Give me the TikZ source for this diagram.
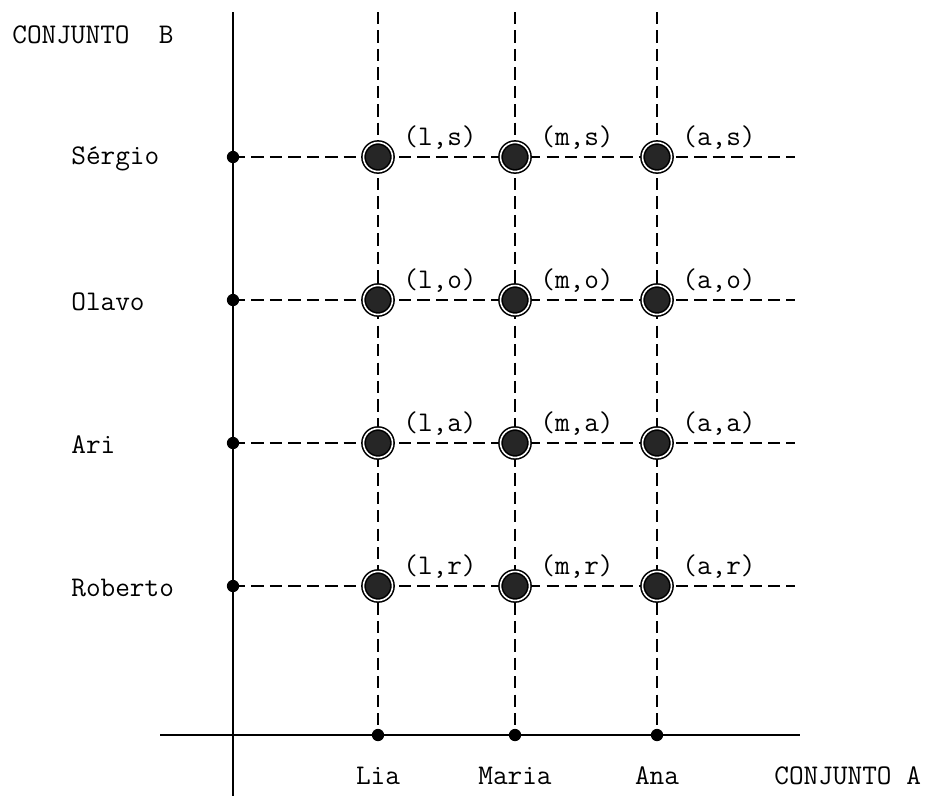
\documentclass[tikz,border=0pt]{standalone}
\usepackage{fontspec}
\tikzset{
	ponto/.style = {circle, fill, inner sep = 0pt, minimum size = 7pt},
	par/.style = {circle, draw, fill = black!85, double = white, double distance = 0.9pt, line width = 0.9pt, inner sep = 0pt, minimum size = 16.5pt},
	grade/.style = {dashed, dash pattern = on 7pt off 3.5pt, line width = 0.9pt},
	rotulo/.style = {font = \ttfamily\fontsize{16.2}{19}\selectfont, inner sep = 0pt}
}
\begin{document}
\begin{tikzpicture}[x = 0.02cm, y = -0.02cm]
	\useasboundingbox (0,0) rectangle (925,796);
	% eixos
	\coordinate (ytopo) at (233,12);
	\coordinate (ybase) at (233,796);
	\coordinate (xesq) at (160,735);
	\coordinate (xdir) at (800,735);
	\draw [line width = 1.1pt] (ytopo) -- (ybase);
	\draw [line width = 1.1pt] (xesq) -- (xdir);
	\node [rotulo, anchor = west] (cjB) at (12,35) {CONJUNTO\ \ B};
	\node [rotulo, anchor = west] (cjA) at (774,776) {CONJUNTO A};
	% conjunto A
	\foreach \nome/\x/\c in {Lia/378/l, Maria/515/m, Ana/657/a} {
		\coordinate (T\c) at (\x,12);
		\draw [grade] (T\c) -- (\x,735) coordinate (A\c);
		\node [rotulo] (nome\c) at (\x,776) {\nome};
	}
	% conjunto B
	\foreach \nome/\y/\r in {Sérgio/157/s, Olavo/300/o, Ari/443/a, Roberto/586/r} {
		\coordinate (B\r) at (233,\y);
		\draw [grade] (B\r) -- (795,\y) coordinate (E\r);
		\node [rotulo, anchor = west] (nome\r) at (71,\y+2) {\nome};
		\node [ponto] at (B\r) {};
	}
	\foreach \c in {l,m,a} \node [ponto] at (A\c) {};
	% pares ordenados
	\foreach \c in {l,m,a} {
		\foreach \r in {s,o,a,r} {
			\node [par] (p\c\r) at (A\c |- B\r) {};
			\node [rotulo, anchor = west] (t\c\r) at ([shift = {(25,-19)}]p\c\r.center) {(\c,\r)};
		}
	}
\end{tikzpicture}
\end{document}
